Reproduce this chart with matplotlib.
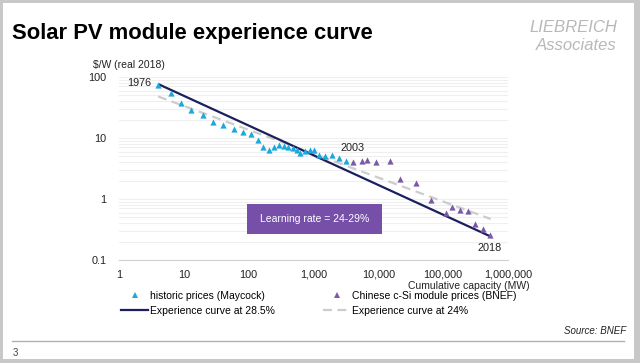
import numpy as np
import matplotlib.pyplot as plt
from matplotlib.lines import Line2D
from matplotlib.patches import Rectangle

plt.rcParams['font.family'] = ['Liberation Sans', 'DejaVu Sans']

# historic prices (Maycock) - cumulative MW, $/W
hist_x = [4.05, 6.4, 9.0, 13, 19.9, 27.7, 40, 60, 81, 110, 138, 166, 203, 243, 290,
          347, 408, 476, 550, 620, 750, 870, 1000, 1220, 1520, 1940, 2480, 3150]
hist_y = [74.7, 55.7, 38, 28.9, 23.6, 18.6, 16.6, 14, 12.6, 11.7, 9.4, 7.2, 6.4, 7.1, 7.7,
          7.5, 7.0, 6.8, 6.3, 5.7, 6.1, 6.3, 6.3, 5.3, 5.0, 5.3, 4.7, 4.2]

# Chinese c-Si module prices (BNEF)
bnef_x = [4090, 5500, 6750, 9300, 15100, 21500, 38000, 65000, 112000, 135000,
          180000, 240000, 310000, 410000, 530000]
bnef_y = [4.07, 4.2, 4.4, 4.0, 4.2, 2.1, 1.83, 0.95, 0.59, 0.74,
          0.65, 0.63, 0.39, 0.32, 0.26]

# experience curves (end points)
curve285_x = [4.2, 530000]
curve285_y = [75, 0.245]
curve24_x = [4.0, 540000]
curve24_y = [48, 0.47]

x_ticks = [1, 10, 100, 1000, 10000, 100000, 1000000]
x_labels = ['1', '10', '100', '1,000', '10,000', '100,000', '1,000,000']
y_ticks = [0.1, 1, 10, 100]
y_labels = ['0.1', '1', '10', '100']

cyan = '#1ba8dc'
purple = '#7a5aa8'
navy = '#1b1f5e'
dash = '#cccccc'

W, H = 640, 363
fig = plt.figure(figsize=(6.4, 3.63), dpi=100)

def fx(p):
    return p / W

def fy(p):
    return 1 - p / H

# slide frame
fig.patches.append(Rectangle((0, 0), 1, 1, transform=fig.transFigure,
                             facecolor='#c8c8c8', edgecolor='none', zorder=-10))
fig.patches.append(Rectangle((fx(3), fy(359)), fx(634 - 3), (359 - 3) / H,
                             transform=fig.transFigure, facecolor='white',
                             edgecolor='none', zorder=-9))
fig.add_artist(Line2D([fx(12), fx(624)], [fy(341), fy(341)], color='#b0b0b0', lw=1))

ax = fig.add_axes([fx(119), fy(260), fx(508 - 119), (260 - 77) / H])
ax.set_xscale('log')
ax.set_yscale('log')
ax.set_xlim(1, 1e6)
ax.set_ylim(0.1, 100)

ax.plot(curve24_x, curve24_y, color=dash, lw=1.6, dashes=(4, 2.5), zorder=2)
ax.plot(curve285_x, curve285_y, color=navy, lw=1.6, zorder=3)
ax.scatter(hist_x, hist_y, marker='^', s=20, color=cyan, zorder=4, linewidths=0)
ax.scatter(bnef_x, bnef_y, marker='^', s=20, color=purple, zorder=4, linewidths=0)

ax.set_xticks(x_ticks)
ax.set_xticklabels(x_labels)
ax.set_yticks(y_ticks)
ax.set_yticklabels(y_labels)
ax.minorticks_off()
ax.set_yticks([m * 10.0 ** e for e in range(-1, 2) for m in range(2, 10)], minor=True)
ax.tick_params(axis='both', which='both', length=0, labelsize=7.8, colors='#222222')
ax.tick_params(axis='x', pad=7)
ax.tick_params(axis='y', pad=9)
ax.yaxis.grid(True, which='both', color='#efefef', lw=0.8)
ax.set_axisbelow(True)
for s in ['top', 'right', 'left']:
    ax.spines[s].set_visible(False)
ax.spines['bottom'].set_color('#d0d0d0')

ax.text(2.07, 81, '1976', fontsize=7.8, ha='center', va='center', color='#222222')
ax.text(3990, 6.9, '2003', fontsize=7.8, ha='center', va='center', color='#222222')
ax.text(514000, 0.16, '2018', fontsize=7.8, ha='center', va='center', color='#222222')

# learning rate box
fig.patches.append(Rectangle((fx(247), fy(234)), fx(382 - 247), (234 - 204) / H,
                             transform=fig.transFigure, facecolor='#7650a8',
                             edgecolor='none', zorder=5))
fig.text(fx(314.5), fy(219), 'Learning rate = 24-29%', color='white', fontsize=7.5,
         ha='center', va='center', zorder=6)

fig.text(fx(12), fy(33), 'Solar PV module experience curve', fontsize=15.8,
         fontweight='bold', ha='left', va='center', color='black')
fig.text(fx(617), fy(27), 'LIEBREICH', fontsize=12, style='italic', ha='right',
         va='center', color='#b8b8b8')
fig.text(fx(617), fy(45), 'Associates', fontsize=12, style='italic', ha='right',
         va='center', color='#b8b8b8')
fig.text(fx(93), fy(65), '$/W (real 2018)', fontsize=7.5, ha='left', va='center',
         color='#222222')
fig.text(fx(469), fy(286), 'Cumulative capacity (MW)', fontsize=7.5, ha='center',
         va='center', color='#222222')
fig.text(fx(626), fy(331), 'Source: BNEF', fontsize=7, style='italic', ha='right',
         va='center', color='#222222')
fig.text(fx(15), fy(353), '3', fontsize=7, ha='center', va='center', color='#444444')

handles = [
    Line2D([], [], ls='none', marker='^', markersize=4, color=cyan, mew=0),
    Line2D([], [], color=navy, lw=1.6),
    Line2D([], [], ls='none', marker='^', markersize=4, color=purple, mew=0),
    Line2D([], [], color=dash, lw=1.6, dashes=(4, 2.5)),
]
labels = ['historic prices (Maycock)', 'Experience curve at 28.5%',
          'Chinese c-Si module prices (BNEF)', 'Experience curve at 24%']
fig.legend(handles, labels, ncol=2, loc='upper left', bbox_to_anchor=(fx(121), fy(291)),
           frameon=False, fontsize=7.5, handlelength=2.6, handletextpad=0.15,
           columnspacing=4.7, labelspacing=0.45, borderaxespad=0, borderpad=0,
           numpoints=1)

fig.savefig('out.png', dpi=100)
